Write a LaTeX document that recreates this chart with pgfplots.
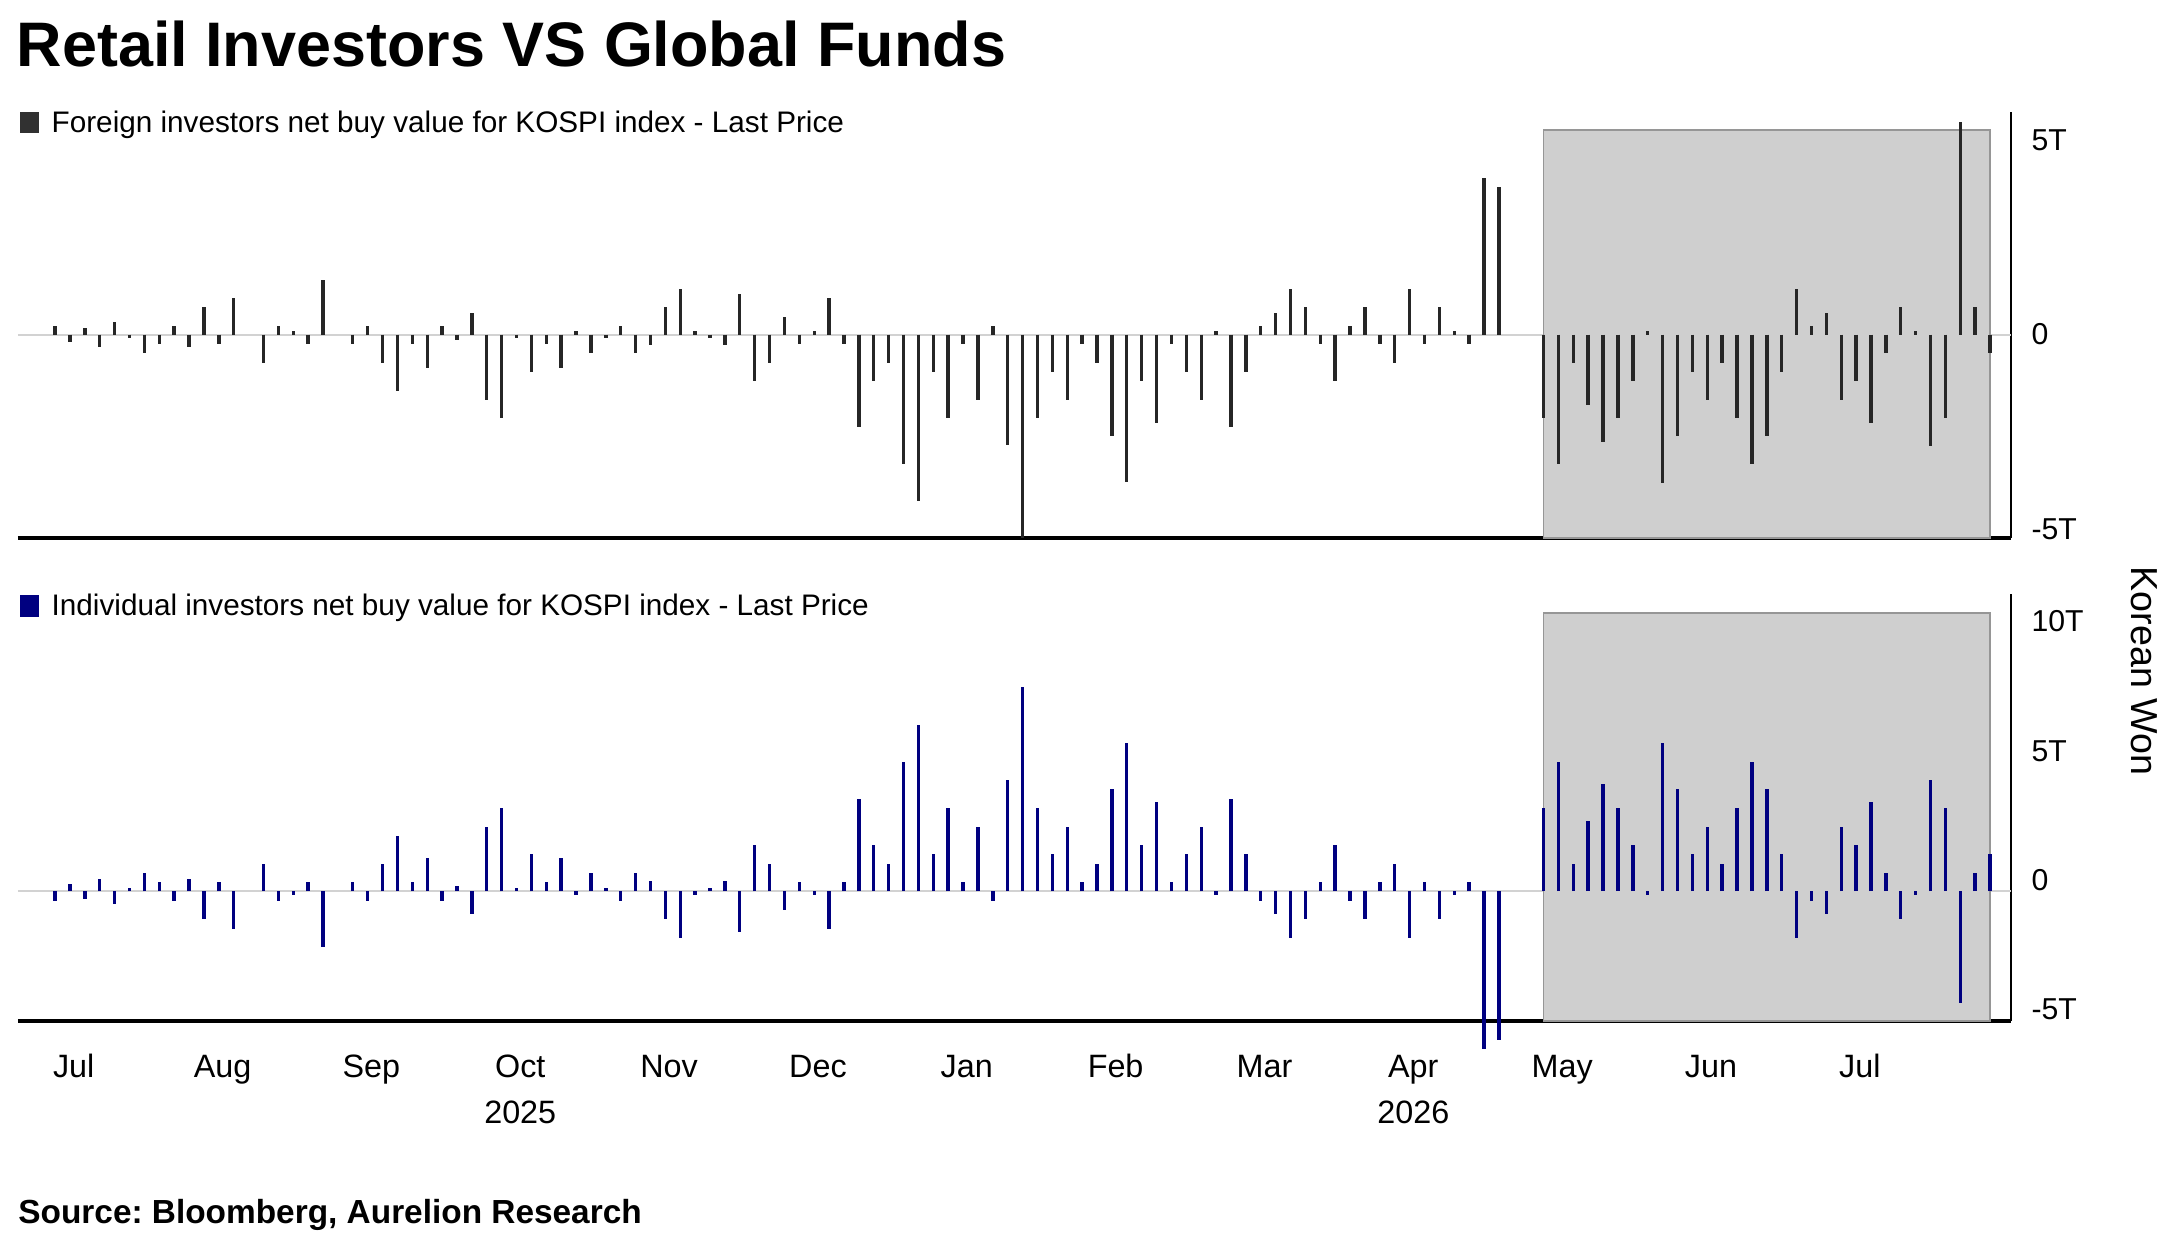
\documentclass[border=0pt]{standalone}
\usepackage{pgfplots}
\pgfplotsset{compat=1.18}
\usepackage{fontspec}
\setmainfont{Liberation Sans}
\frenchspacing
\definecolor{fgbar}{RGB}{38,38,38}
\definecolor{indbar}{RGB}{0,0,128}
\definecolor{boxfill}{RGB}{207,207,207}
\definecolor{boxedge}{RGB}{150,150,150}
\definecolor{zerogray}{RGB}{210,210,210}
\pgfplotsset{
  panel/.style={
    scale only axis, width=199.3mm, anchor=south west,
    xmin=-2.5, xmax=131.4,
    axis x line*=bottom, axis y line*=right,
    x axis line style={line width=1.1pt},
    y axis line style={line width=0.6pt},
    major tick length=0pt,
    yticklabel style={font=\fontsize{8.6}{10}\selectfont, anchor=west, inner sep=0pt, xshift=2mm},
    clip=false,
  },
}
\begin{document}
\begin{tikzpicture}
\path[use as bounding box] (0,0) rectangle (217.2mm,124.3mm);
% title
\node[anchor=base west, inner sep=0pt, font=\fontsize{17.9}{20}\selectfont\bfseries] at (1.6mm,117.63mm) {Retail Investors VS Global Funds};
% legend 1
\fill[fgbar!95] (1.97mm,110.97mm) rectangle (3.88mm,113.1mm);
\node[anchor=base west, inner sep=0pt, font=\fontsize{8.45}{10}\selectfont] at (5.1mm,111.07mm) {Foreign investors net buy value for KOSPI index - Last Price};
% legend 2
\fill[indbar] (1.97mm,62.6mm) rectangle (3.88mm,64.75mm);
\node[anchor=base west, inner sep=0pt, font=\fontsize{8.45}{10}\selectfont] at (5.1mm,62.7mm) {Individual investors net buy value for KOSPI index - Last Price};
% source
\node[anchor=base west, inner sep=0pt, font=\fontsize{9.5}{11}\selectfont\bfseries] at (1.77mm,1.97mm) {Source: Bloomberg, Aurelion Research};
% axis title
\node[rotate=-90, inner sep=0pt, font=\fontsize{10.7}{12}\selectfont] at (214.4mm,57.2mm) {Korean Won};

% ---------- top panel: foreign ----------
\begin{axis}[panel,
  at={(1.79mm,70.5mm)}, height=42.6mm,
  ymin=-5.23, ymax=5.72,
  xtick=\empty, ytick={-5,0,5}, yticklabels={-5T,0,5T},
]
\addplot[draw=zerogray, line width=0.55pt] coordinates {(-2.5,0) (131.4,0)};
\addplot[fill=boxfill, draw=boxedge, line width=0.5pt] coordinates {(100,-5.23) (100,5.26) (130,5.26) (130,-5.23)} -- cycle;
\addplot[ycomb, draw=fgbar, line width=0.34mm, mark=none] coordinates {
(0,0.22)(1,-0.19)(2,0.18)(3,-0.33)(4,0.33)(5,-0.09)(6,-0.48)(7,-0.24)(8,0.23)(9,-0.33)
(10,0.70)(11,-0.24)(12,0.94)(13,0)(14,-0.72)(15,0.23)(16,0.09)(17,-0.24)(18,1.41)(19,0)
(20,-0.24)(21,0.23)(22,-0.72)(23,-1.44)(24,-0.24)(25,-0.85)(26,0.23)(27,-0.15)(28,0.56)(29,-1.67)
(30,-2.14)(31,-0.09)(32,-0.95)(33,-0.24)(34,-0.85)(35,0.09)(36,-0.48)(37,-0.09)(38,0.23)(39,-0.48)
(40,-0.28)(41,0.70)(42,1.18)(43,0.09)(44,-0.09)(45,-0.28)(46,1.04)(47,-1.19)(48,-0.72)(49,0.46)
(50,-0.24)(51,0.09)(52,0.94)(53,-0.24)(54,-2.38)(55,-1.19)(56,-0.72)(57,-3.33)(58,-4.27)(59,-0.95)
(60,-2.14)(61,-0.24)(62,-1.67)(63,0.23)(64,-2.85)(65,-5.23)(66,-2.14)(67,-0.95)(68,-1.67)(69,-0.24)
(70,-0.72)(71,-2.62)(72,-3.80)(73,-1.19)(74,-2.28)(75,-0.24)(76,-0.95)(77,-1.67)(78,0.09)(79,-2.38)
(80,-0.95)(81,0.23)(82,0.56)(83,1.18)(84,0.70)(85,-0.24)(86,-1.19)(87,0.23)(88,0.70)(89,-0.24)
(90,-0.72)(91,1.18)(92,-0.24)(93,0.70)(94,0.09)(95,-0.24)(96,4.03)(97,3.79)
(100,-2.14)(101,-3.34)(102,-0.72)(103,-1.81)(104,-2.77)(105,-2.14)(106,-1.19)(107,0.09)(108,-3.82)(109,-2.62)
(110,-0.95)(111,-1.67)(112,-0.72)(113,-2.14)(114,-3.34)(115,-2.62)(116,-0.95)(117,1.18)(118,0.23)(119,0.56)
(120,-1.67)(121,-1.19)(122,-2.28)(123,-0.48)(124,0.70)(125,0.09)(126,-2.86)(127,-2.14)(128,5.47)(129,0.70)(130,-0.48)
};
\end{axis}

% ---------- bottom panel: individual ----------
\begin{axis}[panel,
  at={(1.79mm,22.23mm)}, height=42.67mm,
  ymin=-5, ymax=11.48,
  ytick={-5,0,5,10}, yticklabels={-5T,0,5T,10T},
  yticklabel style={yshift=1.1mm},
  xtick={1.25,11.25,21.25,31.25,41.25,51.25,61.25,71.25,81.25,91.25,101.25,111.25,121.25},
  xticklabels={Jul,Aug,Sep,Oct,Nov,Dec,Jan,Feb,Mar,Apr,May,Jun,Jul},
  xticklabel style={font=\fontsize{9.2}{11}\selectfont, anchor=base, inner sep=0pt, yshift=-5.64mm},
]
\addplot[draw=zerogray, line width=0.55pt] coordinates {(-2.5,0) (131.4,0)};
\addplot[fill=boxfill, draw=boxedge, line width=0.5pt] coordinates {(100,-5) (100,10.75) (130,10.75) (130,-5)} -- cycle;
\addplot[ycomb, draw=indbar, line width=0.34mm, mark=none] coordinates {
(0,-0.36)(1,0.27)(2,-0.30)(3,0.49)(4,-0.50)(5,0.14)(6,0.71)(7,0.35)(8,-0.36)(9,0.49)
(10,-1.08)(11,0.35)(12,-1.44)(13,0)(14,1.07)(15,-0.36)(16,-0.14)(17,0.35)(18,-2.15)(19,0)
(20,0.35)(21,-0.36)(22,1.07)(23,2.14)(24,0.35)(25,1.29)(26,-0.36)(27,0.21)(28,-0.86)(29,2.50)
(30,3.22)(31,0.14)(32,1.43)(33,0.35)(34,1.29)(35,-0.14)(36,0.71)(37,0.14)(38,-0.36)(39,0.71)
(40,0.41)(41,-1.08)(42,-1.79)(43,-0.14)(44,0.14)(45,0.41)(46,-1.57)(47,1.78)(48,1.07)(49,-0.72)
(50,0.35)(51,-0.14)(52,-1.44)(53,0.35)(54,3.58)(55,1.78)(56,1.07)(57,5.00)(58,6.44)(59,1.43)
(60,3.22)(61,0.35)(62,2.50)(63,-0.36)(64,4.29)(65,7.87)(66,3.22)(67,1.43)(68,2.50)(69,0.35)
(70,1.07)(71,3.93)(72,5.73)(73,1.78)(74,3.43)(75,0.35)(76,1.43)(77,2.50)(78,-0.14)(79,3.58)
(80,1.43)(81,-0.36)(82,-0.86)(83,-1.79)(84,-1.08)(85,0.35)(86,1.78)(87,-0.36)(88,-1.08)(89,0.35)
(90,1.07)(91,-1.79)(92,0.35)(93,-1.08)(94,-0.14)(95,0.35)(96,-6.08)(97,-5.73)
(100,3.22)(101,5.00)(102,1.07)(103,2.72)(104,4.15)(105,3.22)(106,1.78)(107,-0.14)(108,5.73)(109,3.93)
(110,1.43)(111,2.50)(112,1.07)(113,3.22)(114,5.00)(115,3.93)(116,1.43)(117,-1.79)(118,-0.36)(119,-0.86)
(120,2.50)(121,1.78)(122,3.43)(123,0.71)(124,-1.08)(125,-0.14)(126,4.29)(127,3.22)(128,-4.30)(129,0.71)(130,1.43)
};
\node[anchor=base, inner sep=0pt, font=\fontsize{9.2}{11}\selectfont, yshift=-10.24mm] at (axis cs:31.25,-5) {2025};
\node[anchor=base, inner sep=0pt, font=\fontsize{9.2}{11}\selectfont, yshift=-10.24mm] at (axis cs:91.25,-5) {2026};
\end{axis}
\end{tikzpicture}
\end{document}
